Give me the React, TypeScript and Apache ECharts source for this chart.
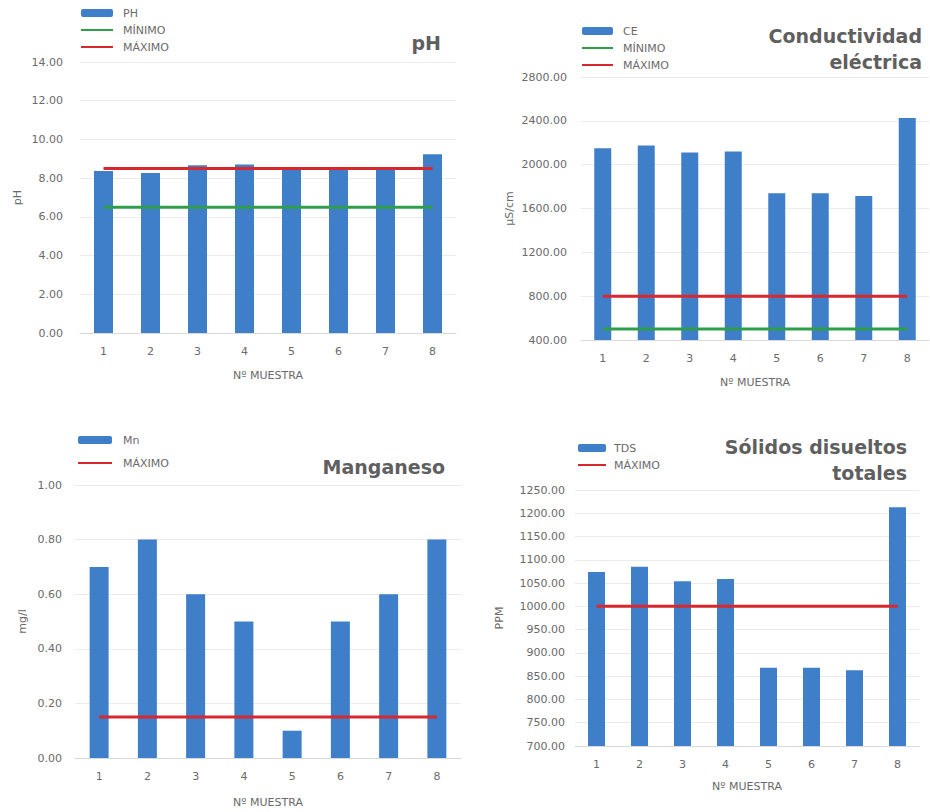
import React, { useEffect, useRef } from "react";
import * as echarts from "echarts";

// Sample numbers (Nº MUESTRA)
const categories = ["1", "2", "3", "4", "5", "6", "7", "8"];

// pH
const phValues = [8.37, 8.27, 8.66, 8.71, 8.57, 8.55, 8.52, 9.23];
const phMin = [6.5, 6.5, 6.5, 6.5, 6.5, 6.5, 6.5, 6.5];
const phMax = [8.5, 8.5, 8.5, 8.5, 8.5, 8.5, 8.5, 8.5];

// Conductividad eléctrica (µS/cm)
const ceValues = [2150, 2175, 2110, 2120, 1740, 1740, 1715, 2425];
const ceMin = [500, 500, 500, 500, 500, 500, 500, 500];
const ceMax = [800, 800, 800, 800, 800, 800, 800, 800];

// Manganeso (mg/l)
const mnValues = [0.7, 0.8, 0.6, 0.5, 0.1, 0.5, 0.6, 0.8];
const mnMax = [0.15, 0.15, 0.15, 0.15, 0.15, 0.15, 0.15, 0.15];

// Sólidos disueltos totales (PPM)
const tdsValues = [1074, 1085, 1054, 1059, 868, 868, 863, 1213];
const tdsMax = [1000, 1000, 1000, 1000, 1000, 1000, 1000, 1000];

const BLUE = "#3f7fca";
const RED = "#d9272e";
const GREEN = "#2f9e4b";
const TEXT = "#6a6a6a";
const TITLE = "#5f5f5f";
const FONT = "DejaVu Sans";

type Panel = {
  title: string;
  titleEnd: number; // x where the right-aligned title ends
  titleTop: number;
  grid: { left: number; top: number; width: number; height: number };
  yMin: number;
  yMax: number;
  yStep: number;
  yName: string;
  yNameGap: number;
  yLabelMargin: number;
  xNameGap: number;
  barWidth: number;
  legend: { left: number; top: number; itemWidth: number; gap: number; textPad: number };
  series: { name: string; kind: "bar" | "line"; data: number[]; color: string }[];
};

const panels: Panel[] = [
  {
    title: "pH",
    titleEnd: 441,
    titleTop: 30,
    grid: { left: 80, top: 62, width: 376, height: 271 },
    yMin: 0,
    yMax: 14,
    yStep: 2,
    yName: "pH",
    yNameGap: 57,
    yLabelMargin: 17,
    xNameGap: 37,
    barWidth: 19,
    legend: { left: 80, top: 6, itemWidth: 32, gap: 3, textPad: 5 },
    series: [
      { name: "PH", kind: "bar", data: phValues, color: BLUE },
      { name: "MÍNIMO", kind: "line", data: phMin, color: GREEN },
      { name: "MÁXIMO", kind: "line", data: phMax, color: RED },
    ],
  },
  {
    title: "Conductividad\neléctrica",
    titleEnd: 922,
    titleTop: 23,
    grid: { left: 581, top: 77, width: 348, height: 263 },
    yMin: 400,
    yMax: 2800,
    yStep: 400,
    yName: "µS/cm",
    yNameGap: 66,
    yLabelMargin: 14,
    xNameGap: 37,
    barWidth: 17,
    legend: { left: 581, top: 24, itemWidth: 31, gap: 3, textPad: 5 },
    series: [
      { name: "CE", kind: "bar", data: ceValues, color: BLUE },
      { name: "MÍNIMO", kind: "line", data: ceMin, color: GREEN },
      { name: "MÁXIMO", kind: "line", data: ceMax, color: RED },
    ],
  },
  {
    title: "Manganeso",
    titleEnd: 445,
    titleTop: 454,
    grid: { left: 75, top: 485, width: 386, height: 273 },
    yMin: 0,
    yMax: 1,
    yStep: 0.2,
    yName: "mg/l",
    yNameGap: 47,
    yLabelMargin: 13,
    xNameGap: 39,
    barWidth: 19,
    legend: { left: 77, top: 433, itemWidth: 34, gap: 9, textPad: 6 },
    series: [
      { name: "Mn", kind: "bar", data: mnValues, color: BLUE },
      { name: "MÁXIMO", kind: "line", data: mnMax, color: RED },
    ],
  },
  {
    title: "Sólidos disueltos\ntotales",
    titleEnd: 907,
    titleTop: 434,
    grid: { left: 575, top: 490, width: 344, height: 256 },
    yMin: 700,
    yMax: 1250,
    yStep: 50,
    yName: "PPM",
    yNameGap: 70,
    yLabelMargin: 10,
    xNameGap: 35,
    barWidth: 17,
    legend: { left: 577, top: 441, itemWidth: 28, gap: 3, textPad: 3 },
    series: [
      { name: "TDS", kind: "bar", data: tdsValues, color: BLUE },
      { name: "MÁXIMO", kind: "line", data: tdsMax, color: RED },
    ],
  },
];

function buildOption() {
  const title: any[] = [];
  const legend: any[] = [];
  const grid: any[] = [];
  const xAxis: any[] = [];
  const yAxis: any[] = [];
  const series: any[] = [];

  panels.forEach((p, i) => {
    title.push({
      text: p.title,
      left: p.titleEnd,
      top: p.titleTop,
      padding: 0,
      textAlign: "right",
      textStyle: {
        fontFamily: FONT,
        fontSize: 19,
        fontWeight: "bold",
        color: TITLE,
        lineHeight: 26,
        align: "right",
      },
    });
    legend.push({
      orient: "vertical",
      left: p.legend.left,
      top: p.legend.top,
      padding: 0,
      itemWidth: p.legend.itemWidth,
      itemHeight: 8,
      itemGap: p.legend.gap,
      // line entries show only the stroke, no marker in the middle
      data: p.series.map((s) =>
        s.kind === "line"
          ? { name: s.name, itemStyle: { color: "rgba(0,0,0,0)", borderWidth: 0, opacity: 0 } }
          : { name: s.name }
      ),
      textStyle: {
        fontFamily: FONT,
        fontSize: 11,
        color: TEXT,
        lineHeight: 14,
        padding: [0, 0, 0, p.legend.textPad],
      },
    });
    grid.push({ ...p.grid });
    xAxis.push({
      type: "category",
      gridIndex: i,
      data: categories,
      name: "Nº MUESTRA",
      nameLocation: "middle",
      nameGap: p.xNameGap,
      nameTextStyle: { fontFamily: FONT, fontSize: 11, color: TEXT },
      axisLine: { show: true, lineStyle: { color: "#d9d9d9", width: 1 } },
      axisTick: { show: false },
      axisLabel: { fontFamily: FONT, fontSize: 11, color: TEXT, margin: 13 },
    });
    yAxis.push({
      type: "value",
      gridIndex: i,
      min: p.yMin,
      max: p.yMax,
      interval: p.yStep,
      name: p.yName,
      nameLocation: "middle",
      nameGap: p.yNameGap,
      nameTextStyle: { fontFamily: FONT, fontSize: 11, color: TEXT },
      axisLine: { show: false },
      axisTick: { show: false },
      splitLine: { lineStyle: { color: "#ebebeb", width: 1 } },
      axisLabel: {
        fontFamily: FONT,
        fontSize: 11,
        color: TEXT,
        margin: p.yLabelMargin,
        formatter: (v: number) => v.toFixed(2),
      },
    });
    p.series.forEach((s) => {
      if (s.kind === "bar") {
        series.push({
          type: "bar",
          name: s.name,
          xAxisIndex: i,
          yAxisIndex: i,
          data: s.data,
          barWidth: p.barWidth,
          itemStyle: { color: s.color },
          z: 2,
        });
      } else {
        series.push({
          type: "line",
          name: s.name,
          xAxisIndex: i,
          yAxisIndex: i,
          data: s.data,
          symbol: "none",
          itemStyle: { color: s.color },
          lineStyle: { color: s.color, width: 3 },
          z: 3,
        });
      }
    });
  });

  return {
    animation: false,
    backgroundColor: "#ffffff",
    title,
    legend,
    grid,
    xAxis,
    yAxis,
    series,
  };
}

export default function App() {
  const ref = useRef<HTMLDivElement>(null);

  useEffect(() => {
    if (!ref.current) return;
    const chart = echarts.init(ref.current, undefined, { renderer: "svg" });
    chart.setOption(buildOption() as any);
    return () => chart.dispose();
  }, []);

  return (
    <div
      ref={ref}
      style={{ position: "absolute", left: 0, top: 0, width: 930, height: 812, background: "#fff" }}
    />
  );
}
